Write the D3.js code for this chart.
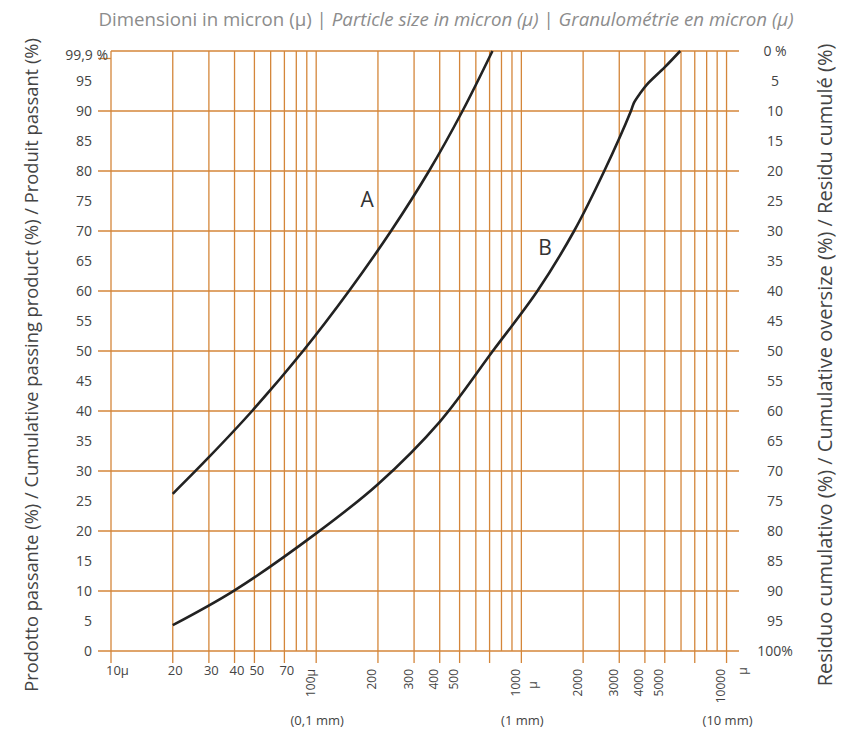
<!DOCTYPE html>
<html lang="it">
<head>
    <meta charset="UTF-8">
    <title>Curve granulometriche</title>
    <script src="https://d3js.org/d3.v7.min.js"></script>
    <style>
        body { margin: 0; background: #fff; }
        svg { display: block; font-family: "Open Sans", "Noto Sans", sans-serif; }
    </style>
    <script>
        // curve A (micron, % passing)
        const sizeA = [20, 30, 48.7, 86.3, 144.5, 231.6, 354.7, 516.6, 723];
        const passA = [26.2, 32.3, 40, 50, 60, 70, 80, 90, 100];

        // curve B (micron, % passing)
        const sizeB = [20, 40, 100, 200, 400, 726, 1197, 1807, 2535, 3420, 3540, 3800, 4090, 5000, 5945];
        const passB = [4.3, 10.1, 19.6, 27.8, 38.2, 50, 60, 70, 80, 90, 91.4, 93, 94.4, 97.3, 100];

        // log grid (microns)
        const gridMicrons = [10, 20, 30, 40, 50, 60, 70, 80, 90,
            100, 200, 300, 400, 500, 600, 700, 800, 900,
            1000, 2000, 3000, 4000, 5000, 6000, 7000, 8000, 9000, 10000];
        const longTicks = [10, 20, 30, 40, 50, 70, 100, 200, 300, 400, 500, 700, 1000, 2000, 3000, 4000, 5000, 7000, 10000];

        const flatTicks = [10, 20, 30, 40, 50, 70];
        const flatTickText = ["10μ", "20", "30", "40", "50", "70"];
        const rotTicks = [100, 200, 300, 400, 500, 1000, 2000, 3000, 4000, 5000, 10000];
        const rotTickText = ["100μ", "200", "300", "400", "500", "1000", "2000", "3000", "4000", "5000", "10000"];
        const mmTicks = [100, 1000, 10000];
        const mmText = ["(0,1 mm)", "(1 mm)", "(10 mm)"];

        const passTicks = [0, 5, 10, 15, 20, 25, 30, 35, 40, 45, 50, 55, 60, 65, 70, 75, 80, 85, 90, 95];
        const residueTicks = [0, 5, 10, 15, 20, 25, 30, 35, 40, 45, 50, 55, 60, 65, 70, 75, 80, 85, 90, 95, 100];
        const passGrid = [0, 10, 20, 30, 40, 50, 60, 70, 80, 90, 100];

        const gridColor = "#d4863a";
        const textColor = "#444";

        function draw() {
            const svg = d3.select("svg").attr("width", 841).attr("height", 729);

            const x = d3.scaleLog().domain([10, 11500]).range([111, 739]);
            const y = d3.scaleLinear().domain([0, 100]).range([651, 51]);

            // vertical grid
            svg.append("g").selectAll("line").data(gridMicrons).enter().append("line")
                .attr("x1", d => x(d)).attr("x2", d => x(d))
                .attr("y1", y(100))
                .attr("y2", d => longTicks.includes(d) ? y(0) + 12 : y(0))
                .attr("stroke", gridColor).attr("stroke-width", 1.3);

            // horizontal grid
            svg.append("g").selectAll("line").data(passGrid).enter().append("line")
                .attr("x1", d => d === 100 ? x(10) : x(10) - 13)
                .attr("x2", x.range()[1])
                .attr("y1", d => y(d)).attr("y2", d => y(d))
                .attr("stroke", gridColor).attr("stroke-width", 1.3);

            // 99,9 tick
            svg.append("line")
                .attr("x1", x(10) - 13).attr("x2", x(10))
                .attr("y1", y(98.75)).attr("y2", y(98.75))
                .attr("stroke", gridColor).attr("stroke-width", 1.3);

            // left labels
            const left = svg.append("g").attr("transform", "translate(92,0)")
                .call(d3.axisLeft(y).tickValues(passTicks).tickSize(0).tickPadding(0));
            left.select(".domain").remove();
            left.selectAll("text").attr("font-size", 14).attr("fill", textColor)
                .attr("font-family", "Open Sans, sans-serif");

            svg.append("text").attr("x", 108).attr("y", y(98.75) - 3)
                .attr("text-anchor", "end").attr("font-size", 14).attr("fill", textColor)
                .attr("dy", "0.35em").text("99,9 %");

            // right labels (residue)
            svg.append("g").selectAll("text").data(residueTicks).enter().append("text")
                .attr("x", 775).attr("y", d => y(100 - d)).attr("dy", "0.35em")
                .attr("text-anchor", "middle").attr("font-size", 14).attr("fill", textColor)
                .text(d => d === 0 ? "0 %" : d === 100 ? "100%" : d);

            // bottom labels
            svg.append("g").selectAll("text").data(flatTicks).enter().append("text")
                .attr("x", d => x(d) - 5).attr("y", 675)
                .attr("font-size", 13).attr("fill", textColor)
                .text((d, i) => flatTickText[i]);

            svg.append("g").selectAll("text").data(rotTicks).enter().append("text")
                .attr("transform", d => "translate(" + (x(d) - 1.5) + ",669) rotate(-90)")
                .attr("text-anchor", "end").attr("font-size", 12).attr("fill", textColor)
                .text((d, i) => rotTickText[i]);

            svg.append("text")
                .attr("transform", "translate(" + (x(1000) + 16) + ",685) rotate(-90)")
                .attr("text-anchor", "middle").attr("font-size", 12).attr("fill", textColor)
                .text("μ");
            svg.append("text")
                .attr("transform", "translate(" + (x(10000) + 20) + ",671) rotate(-90)")
                .attr("text-anchor", "middle").attr("font-size", 12).attr("fill", textColor)
                .text("μ");

            svg.append("g").selectAll("text").data(mmTicks).enter().append("text")
                .attr("x", d => x(d) + 1).attr("y", 725)
                .attr("text-anchor", "middle").attr("font-size", 13).attr("fill", textColor)
                .text((d, i) => mmText[i]);

            // curves
            const line = d3.line()
                .x(d => x(d[0])).y(d => y(d[1]))
                .curve(d3.curveCatmullRom.alpha(0.5));

            svg.append("path").datum(d3.zip(sizeA, passA))
                .attr("d", line).attr("fill", "none")
                .attr("stroke", "#222").attr("stroke-width", 2.6);
            svg.append("path").datum(d3.zip(sizeB, passB))
                .attr("d", line).attr("fill", "none")
                .attr("stroke", "#222").attr("stroke-width", 2.6);

            svg.append("text").attr("x", x(177)).attr("y", y(74))
                .attr("text-anchor", "middle").attr("font-size", 21).attr("fill", "#333").text("A");
            svg.append("text").attr("x", x(1306)).attr("y", y(66))
                .attr("text-anchor", "middle").attr("font-size", 21).attr("fill", "#333").text("B");

            // titles
            const title = svg.append("text").attr("x", 446).attr("y", 26)
                .attr("text-anchor", "middle").attr("font-size", 18.7).attr("fill", "#8c8c8c");
            title.append("tspan").text("Dimensioni in micron (μ) | ");
            title.append("tspan").attr("font-style", "italic").text("Particle size in micron (μ)");
            title.append("tspan").text(" | ");
            title.append("tspan").attr("font-style", "italic").text("Granulométrie en micron (μ)");

            svg.append("text")
                .attr("transform", "translate(38,365) rotate(-90)")
                .attr("text-anchor", "middle").attr("font-size", 18.3).attr("fill", "#444")
                .text("Prodotto passante (%) / Cumulative passing product (%) / Produit passant (%)");

            svg.append("text")
                .attr("transform", "translate(832,365) rotate(-90)")
                .attr("text-anchor", "middle").attr("font-size", 20).attr("fill", "#444")
                .text("Residuo cumulativo (%) / Cumulative oversize (%) / Residu cumulé (%)");
        }

        document.addEventListener("DOMContentLoaded", draw);
    </script>
</head>
<body>
    <svg></svg>
</body>
</html>
